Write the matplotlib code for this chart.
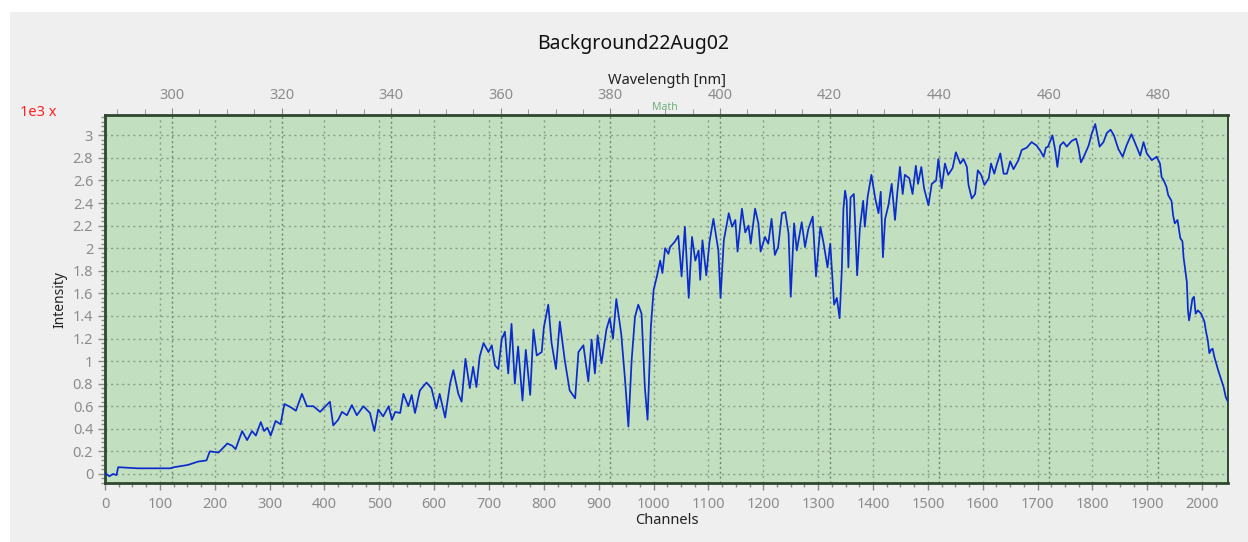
import numpy as np
import matplotlib
matplotlib.use("Agg")
import matplotlib.pyplot as plt
from matplotlib.patches import Rectangle
from matplotlib.ticker import MultipleLocator, FixedLocator, FuncFormatter

# spectrum: channel number, intensity (x1000 counts)
channels = [0, 8, 15, 21, 24, 60, 119, 126, 151, 170, 185, 191, 207, 223, 232, 238,
            250, 259, 268, 275, 284, 290, 296, 302, 311, 320, 327, 339, 348, 359,
            368, 380, 392, 410, 416, 425, 432, 441, 450, 459, 471, 483, 491, 498,
            507, 517, 523, 529, 538, 544, 553, 559, 565, 574, 586, 595, 604, 610,
            620, 629, 635, 644, 650, 657, 665, 671, 677, 683, 690, 699, 705, 711,
            717, 723, 729, 735, 741, 747, 753, 761, 767, 775, 781, 787, 796, 800,
            808, 814, 822, 829, 838, 847, 857, 863, 872, 881, 887, 893, 898, 905,
            914, 920, 926, 932, 941, 948, 954, 960, 966, 972, 978, 984, 989, 995,
            1000, 1006, 1012, 1016, 1021, 1027, 1030, 1039, 1045, 1051, 1057, 1064,
            1070, 1076, 1082, 1085, 1089, 1096, 1102, 1109, 1118, 1122, 1128, 1137,
            1143, 1149, 1153, 1161, 1167, 1173, 1177, 1185, 1191, 1195, 1203, 1209,
            1215, 1221, 1227, 1234, 1240, 1246, 1250, 1256, 1261, 1270, 1276, 1282,
            1290, 1296, 1304, 1310, 1317, 1322, 1327, 1329, 1334, 1339, 1343, 1346,
            1349, 1352, 1355, 1359, 1365, 1367, 1371, 1376, 1382, 1385, 1390, 1397,
            1404, 1410, 1414, 1418, 1422, 1428, 1434, 1440, 1444, 1449, 1454, 1458,
            1466, 1472, 1478, 1482, 1488, 1493, 1501, 1507, 1515, 1519, 1525, 1531,
            1537, 1545, 1551, 1559, 1565, 1571, 1574, 1580, 1586, 1591, 1597, 1603,
            1611, 1615, 1621, 1626, 1632, 1638, 1644, 1650, 1656, 1665, 1671, 1680,
            1689, 1698, 1704, 1711, 1715, 1719, 1727, 1732, 1736, 1741, 1747, 1753,
            1762, 1770, 1774, 1779, 1785, 1793, 1799, 1805, 1813, 1820, 1826, 1833,
            1839, 1847, 1855, 1862, 1871, 1877, 1887, 1893, 1899, 1908, 1917, 1923,
            1926, 1930, 1935, 1938, 1944, 1947, 1950, 1955, 1960, 1964, 1966, 1969,
            1972, 1974, 1976, 1979, 1982, 1985, 1988, 1992, 1998, 2004, 2007, 2010,
            2013, 2016, 2019, 2022, 2029, 2035, 2039, 2043, 2047]
intensity = [0.01, -0.02, 0.0, -0.01, 0.06, 0.05, 0.05, 0.06, 0.08, 0.11, 0.12, 0.20,
             0.19, 0.27, 0.25, 0.22, 0.38, 0.30, 0.38, 0.34, 0.46, 0.38, 0.41, 0.34,
             0.47, 0.44, 0.62, 0.59, 0.56, 0.71, 0.60, 0.60, 0.55, 0.64, 0.43, 0.48,
             0.55, 0.52, 0.61, 0.52, 0.60, 0.54, 0.38, 0.57, 0.51, 0.60, 0.48, 0.55,
             0.54, 0.71, 0.60, 0.70, 0.54, 0.74, 0.81, 0.76, 0.58, 0.71, 0.50, 0.80,
             0.92, 0.71, 0.64, 1.02, 0.76, 0.95, 0.77, 1.04, 1.16, 1.08, 1.14, 0.96,
             0.93, 1.19, 1.26, 0.89, 1.33, 0.80, 1.13, 0.65, 1.10, 0.70, 1.28, 1.05,
             1.08, 1.30, 1.50, 1.16, 0.93, 1.35, 1.01, 0.74, 0.67, 1.08, 1.14, 0.82,
             1.19, 0.89, 1.23, 0.98, 1.28, 1.38, 1.20, 1.55, 1.24, 0.83, 0.42, 1.01,
             1.39, 1.50, 1.42, 0.77, 0.48, 1.30, 1.63, 1.75, 1.89, 1.78, 2.00, 1.95,
             2.01, 2.06, 2.11, 1.75, 2.19, 1.56, 2.10, 1.89, 1.98, 1.72, 2.07, 1.76,
             2.06, 2.26, 1.98, 1.56, 2.07, 2.31, 2.19, 2.25, 1.97, 2.35, 2.14, 2.20,
             2.04, 2.35, 2.22, 1.97, 2.10, 2.04, 2.26, 1.94, 2.01, 2.31, 2.32, 2.13,
             1.57, 2.22, 1.98, 2.23, 2.01, 2.17, 2.28, 1.75, 2.19, 2.04, 1.83, 2.04,
             1.66, 1.50, 1.56, 1.38, 1.80, 2.35, 2.51, 2.42, 1.83, 2.45, 2.48, 2.25,
             1.76, 2.18, 2.42, 2.19, 2.45, 2.65, 2.44, 2.31, 2.50, 1.92, 2.26, 2.38,
             2.57, 2.25, 2.48, 2.72, 2.48, 2.65, 2.62, 2.48, 2.73, 2.57, 2.72, 2.53,
             2.38, 2.57, 2.60, 2.79, 2.53, 2.75, 2.65, 2.71, 2.85, 2.75, 2.79, 2.72,
             2.56, 2.44, 2.48, 2.69, 2.65, 2.56, 2.62, 2.75, 2.66, 2.75, 2.84, 2.66,
             2.66, 2.77, 2.70, 2.78, 2.87, 2.89, 2.94, 2.91, 2.87, 2.81, 2.89, 2.90,
             3.00, 2.87, 2.72, 2.91, 2.94, 2.90, 2.95, 2.97, 2.90, 2.76, 2.82, 2.91,
             3.02, 3.10, 2.90, 2.94, 3.02, 3.05, 3.00, 2.88, 2.81, 2.91, 3.01, 2.94,
             2.82, 2.94, 2.84, 2.78, 2.81, 2.75, 2.63, 2.60, 2.54, 2.47, 2.42, 2.29,
             2.22, 2.25, 2.09, 2.06, 1.92, 1.81, 1.70, 1.45, 1.36, 1.45, 1.55, 1.57,
             1.42, 1.45, 1.42, 1.35, 1.26, 1.19, 1.07, 1.10, 1.11, 1.04, 0.92, 0.83,
             0.77, 0.68, 0.64]

# wavelength calibration (linear fit of top axis against channels)
nm_offset = 287.76
nm_per_channel = 0.10013
wl_major = [300, 320, 340, 360, 380, 400, 420, 440, 460, 480]
wl_minor = [290, 295, 305, 310, 315, 325, 330, 335, 345, 350, 355, 365, 370, 375,
            385, 390, 395, 405, 410, 415, 425, 430, 435, 445, 450, 455, 465, 470,
            475, 485, 490]

GRID = "#8a9e8a"
TICKCOL = "#8c8c8c"
FRAME = "#2e472e"


def ch2nm(ch):
    return nm_offset + nm_per_channel * np.asarray(ch, dtype=float)


def nm2ch(nm):
    return (np.asarray(nm, dtype=float) - nm_offset) / nm_per_channel


plt.rcParams['font.family'] = ['Noto Sans', 'DejaVu Sans']

fig = plt.figure(figsize=(12.48, 5.42), dpi=100)
fig.patch.set_facecolor("white")
fig.patches.append(Rectangle((10 / 1248, 0), 1, 1 - 12 / 542, transform=fig.transFigure,
                             facecolor="#efefef", edgecolor="none", zorder=-10))

ax = fig.add_axes([105 / 1248, 1 - 483 / 542, 1123 / 1248, 368 / 542])
ax.set_facecolor("#c2dfc0")
ax.plot(channels, intensity, color="#0a2ccc", lw=1.25, zorder=3)

ax.set_xlim(0, 2047)
ax.set_ylim(-0.08, 3.18)

ax.xaxis.set_major_locator(MultipleLocator(100))
ax.xaxis.set_minor_locator(MultipleLocator(25))
ax.yaxis.set_major_locator(MultipleLocator(0.2))
ax.yaxis.set_minor_locator(MultipleLocator(0.04))
ax.yaxis.set_major_formatter(FuncFormatter(lambda v, p: f"{v:g}" if abs(v) > 1e-9 else "0"))

ax.grid(True, which="major", color=GRID, linestyle=(0, (1.5, 2.5)), linewidth=1.0, zorder=1)
# wavelength grid lines, a bit darker
for nm in wl_major:
    ax.axvline(nm2ch(nm), color="#6f876f", linestyle=(0, (1.5, 2.0)), linewidth=1.0, zorder=1)

ax.tick_params(axis="both", which="both", colors=TICKCOL, labelcolor=TICKCOL, labelsize=10.5)
ax.tick_params(which="major", length=5, width=1)
ax.tick_params(which="minor", length=3, width=1)
ax.tick_params(axis="x", pad=5)

for side in ["left", "top", "bottom"]:
    ax.spines[side].set_color(FRAME)
    ax.spines[side].set_linewidth(2.0)
ax.spines["right"].set_color(FRAME)
ax.spines["right"].set_linewidth(1.4)

ax.set_xlabel("Channels", fontsize=10.5, color="#222222", labelpad=1)
ax.set_ylabel("Intensity", fontsize=10, color="#222222", labelpad=4)

top = ax.secondary_xaxis("top", functions=(ch2nm, nm2ch))
top.xaxis.set_major_locator(FixedLocator(wl_major))
top.xaxis.set_minor_locator(FixedLocator(wl_minor))
top.tick_params(which="both", colors=TICKCOL, labelcolor=TICKCOL, labelsize=10.5)
top.tick_params(which="major", length=5)
top.tick_params(which="minor", length=4)
top.spines["top"].set_visible(False)
top.set_xlabel("Wavelength [nm]", fontsize=10.5, color="#222222", labelpad=3)

fig.text(633 / 1248, 1 - 44 / 542, "Background22Aug02", ha="center", va="center",
         fontsize=14, color="#111111")
fig.text(38 / 1248, 1 - 112 / 542, "1e3 x", ha="center", va="center",
         fontsize=10.5, color="#ff2020")
fig.text(665 / 1248, 1 - 108 / 542, "Math", ha="center", va="center",
         fontsize=7.5, color="#6fb07a")

fig.savefig("out.png", dpi=100, facecolor=fig.get_facecolor())
